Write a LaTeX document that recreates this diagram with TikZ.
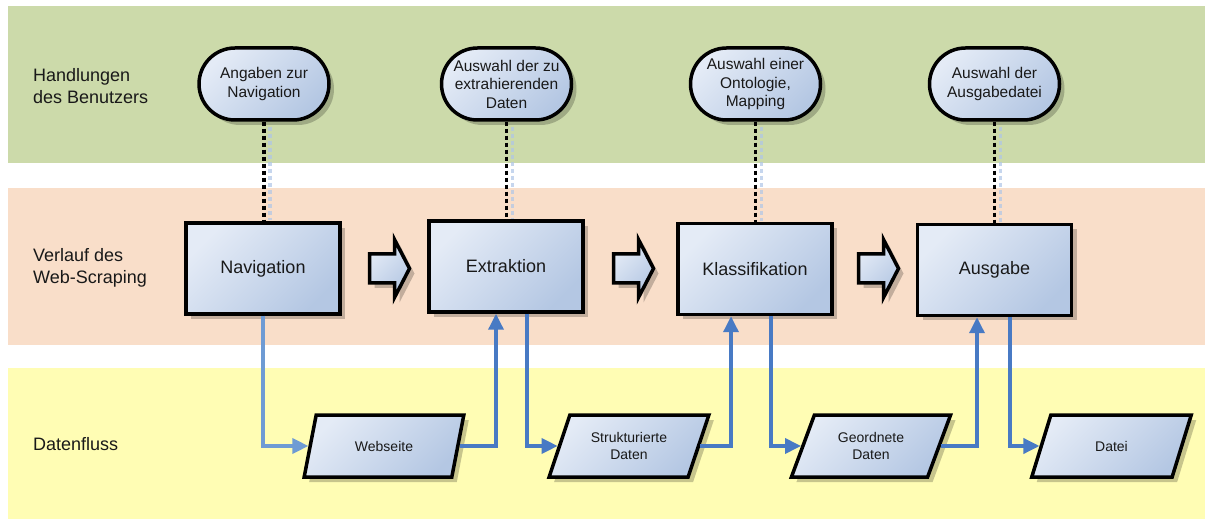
\documentclass[tikz,border=0pt]{standalone}
\usepackage{fontspec}
\setmainfont{Liberation Sans}
\usetikzlibrary{shadows,arrows.meta,shapes.geometric}
\definecolor{bandgreen}{RGB}{204,218,170}
\definecolor{bandorange}{RGB}{249,222,201}
\definecolor{bandyellow}{RGB}{255,253,180}
\definecolor{nodelight}{RGB}{228,235,246}
\definecolor{nodedark}{RGB}{180,199,227}
\definecolor{flowblue}{RGB}{72,122,196}
\definecolor{flowlight}{RGB}{110,155,212}
\definecolor{txt}{RGB}{25,25,25}
\definecolor{ghostblue}{RGB}{175,198,232}
\begin{document}
\begin{tikzpicture}[x=1pt,y=-1pt,
  band/.style={anchor=north west, inner sep=0, minimum width=1197, draw=none},
  bandlabel/.style={anchor=west, inner sep=0, align=left, text=txt, font=\fontsize{18}{21.5}\selectfont},
  box/.style={draw=black, line width=3.5pt, top color=nodelight, bottom color=nodedark, shading angle=45,
    inner sep=0, text=txt, align=center,
    drop shadow={shadow xshift=5pt, shadow yshift=-5pt, opacity=0.22, fill=black}},
  stepbox/.style={box, minimum width=154, minimum height=91, font=\fontsize{18}{21}\selectfont},
  term/.style={box, minimum width=130, minimum height=72, rounded corners=36, font=\fontsize{15.5}{18.5}\selectfont},
  para/.style={box, trapezium, trapezium left angle=63.4, trapezium right angle=116.6, trapezium stretches=true,
    minimum width=160, minimum height=62, font=\fontsize{14}{16.5}\selectfont},
  blockarrow/.style={draw=black, line width=3.5pt, top color=nodelight, bottom color=nodedark, shading angle=45,
    drop shadow={shadow xshift=5pt, shadow yshift=-5pt, opacity=0.22, fill=black}},
  dots/.style={line width=3.5pt, dash pattern=on 4pt off 3pt, black},
  ghostline/.style={line width=3.5pt, dash pattern=on 4pt off 3pt, ghostblue, opacity=0.7},
  flow/.style={line width=3.5pt, flowblue, -{Triangle[length=16pt,width=15pt]}},
  flowl/.style={flow, flowlight}
]
\useasboundingbox (0,0) rectangle (1205,521);
\fill[white] (0,0) rectangle (1205,521);
% bands
\node[band, fill=bandgreen, minimum height=157] (bandA) at (8,6) {};
\node[band, fill=bandorange, minimum height=157] (bandB) at (8,188) {};
\node[band, fill=bandyellow, minimum height=151] (bandC) at (8,368) {};
\node[bandlabel] (labA) at (33,86) {Handlungen\\des Benutzers};
\node[bandlabel] (labB) at (33,268) {Verlauf des\\Web-Scraping};
\node[bandlabel, anchor=base west] (labC) at (33,450) {Datenfluss};

\path (264,84) coordinate (ct1) (506.5,84) coordinate (ct2) (755.5,84) coordinate (ct3) (994.5,84) coordinate (ct4);

% ghost lines of the dotted connectors
\begin{scope}[transform canvas={xshift=6pt}]
\foreach \cx/\ty in {264/220, 506.5/219, 755.5/221, 994.5/222}{
  \draw[ghostline] (\cx,127) -- (\cx,\ty);
}
\end{scope}

% steps
\node[stepbox] (nav) at (263,268.5) {Navigation};
\node[stepbox] (extr) at (506,266.5) {Extraktion};
\node[stepbox] (klass) at (755,269) {Klassifikation};
\node[stepbox] (ausg) at (994.5,270) {Ausgabe};

% user actions
\node[term] (t1) at (ct1) {Angaben zur\\Navigation};
\node[term] (t2) at (ct2) {Auswahl der zu\\extrahierenden\\Daten};
\node[term] (t3) at (ct3) {Auswahl einer\\Ontologie,\\Mapping};
\node[term] (t4) at (ct4) {Auswahl der\\Ausgabedatei};

\draw[dots] (t1.south) -- (t1.south |- nav.north);
\draw[dots] (t2.south) -- (t2.south |- extr.north);
\draw[dots] (t3.south) -- (t3.south |- klass.north);
\draw[dots] (t4.south) -- (t4.south |- ausg.north);

% block arrows
\foreach \cx in {389.5, 633.5, 878.5}{
  \draw[blockarrow] (\cx-20,254) -- (\cx+5,254) -- (\cx+5,239.5) -- (\cx+20,268.5) -- (\cx+5,297.5) -- (\cx+5,283) -- (\cx-20,283) -- cycle;
}

% data
\node[para] (p1) at (384,446) {Webseite};
\node[para] (p2) at (629,446) {Strukturierte\\Daten};
\node[para] (p3) at (871,446) {Geordnete\\Daten};
\node[para] (p4) at (1111.5,446) {Datei};

% data flow
\draw[flowl] (nav.south) |- (p1.west);
\draw[flow] (p1.east) -| ([xshift=-10pt]extr.south);
\draw[flow] ([xshift=21pt]extr.south) |- (p2.west);
\draw[flow] (p2.east) -| ([xshift=-24pt]klass.south);
\draw[flow] ([xshift=16pt]klass.south) |- (p3.west);
\draw[flow] (p3.east) -| ([xshift=-17.5pt]ausg.south);
\draw[flow] ([xshift=15.5pt]ausg.south) |- (p4.west);
\end{tikzpicture}
\end{document}
